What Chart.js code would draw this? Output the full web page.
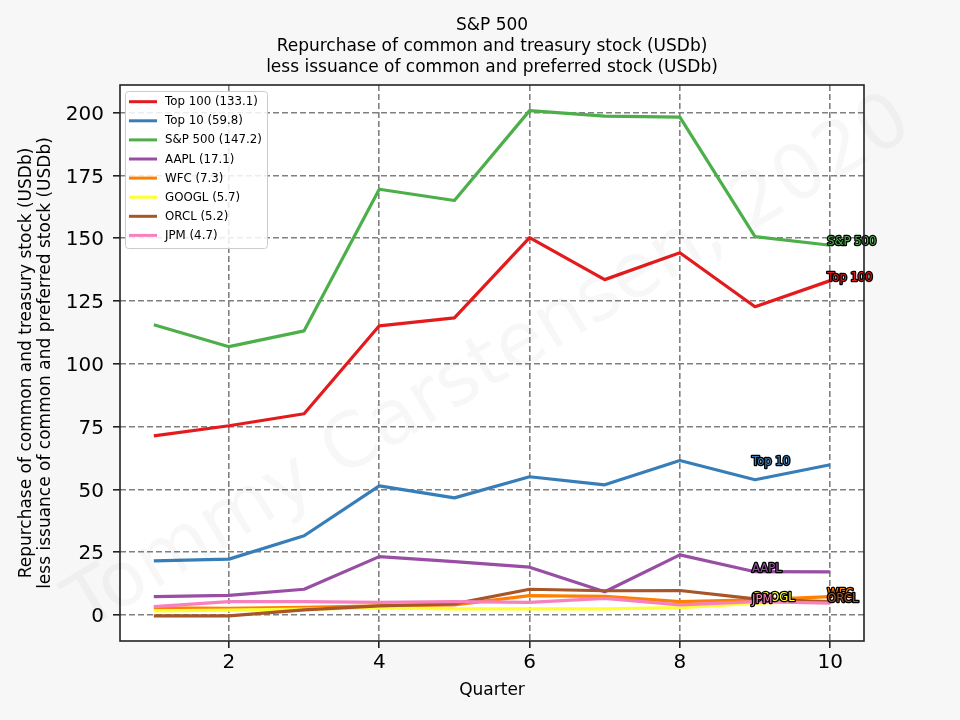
<!DOCTYPE html>
<html>
<head>
<meta charset="utf-8">
<script src="https://cdn.jsdelivr.net/npm/chart.js@4"></script>
<style>
html,body{margin:0;padding:0;background:#f7f7f7;}
canvas{display:block;}
</style>
</head>
<body>
<canvas id="c" width="960" height="720"></canvas>
<script>
// ---- data ----
const quarters = [1, 2, 3, 4, 5, 6, 7, 8, 9, 10];
const seriesNames = ["Top 100", "Top 10", "S&P 500", "AAPL", "WFC", "GOOGL", "ORCL", "JPM"];
const top100 = [71.3, 75.3, 80.1, 115.1, 118.3, 150.2, 133.5, 144.2, 122.7, 133.1];
const top10  = [21.5, 22.2, 31.5, 51.4, 46.6, 55.0, 51.8, 61.5, 53.8, 59.8];
const sp500  = [115.5, 106.8, 113.1, 169.5, 165.0, 200.8, 198.6, 198.2, 150.6, 147.2];
const aapl   = [7.3, 7.8, 10.2, 23.2, 21.2, 19.0, 9.2, 23.9, 17.2, 17.1];
const wfc    = [2.8, 2.6, 3.0, 3.6, 4.0, 7.7, 7.4, 5.3, 6.0, 7.3];
const googl  = [1.6, 1.9, 2.3, 2.8, 2.4, 2.4, 2.4, 2.9, 4.6, 5.7];
const orcl   = [-0.4, -0.4, 2.0, 3.6, 4.4, 10.2, 9.6, 9.7, 6.4, 5.2];
const jpm    = [3.3, 5.3, 5.3, 5.0, 5.3, 5.0, 6.6, 4.0, 5.3, 4.7];
const seriesValues = [top100, top10, sp500, aapl, wfc, googl, orcl, jpm];
const labelQuarter = [10, 9, 10, 9, 10, 9, 10, 9];
const xTicks = [2, 4, 6, 8, 10];
const yTicks = [0, 25, 50, 75, 100, 125, 150, 175, 200];
const titleLines = ["S&P 500", "Repurchase of common and treasury stock (USDb)", "less issuance of common and preferred stock (USDb)"];
const xTitle = "Quarter";
const yTitleLines = ["Repurchase of common and treasury stock (USDb)", "less issuance of common and preferred stock (USDb)"];
const watermark = "Tommy Carstensen, 2020";

// ---- styles ----
const colors = ["#e41a1c", "#377eb8", "#4daf4a", "#984ea3", "#ff7f00", "#ffff33", "#a65628", "#f781bf"];
const FONT = "'DejaVu Sans', sans-serif";

const datasets = seriesNames.map((name, i) => ({
  label: name + " (" + seriesValues[i][seriesValues[i].length - 1].toFixed(1) + ")",
  data: quarters.map((q, j) => ({x: q, y: seriesValues[i][j]})),
  borderColor: colors[i],
  backgroundColor: colors[i],
  borderWidth: 3.2,
  pointRadius: 0,
  tension: 0,
  fill: false,
  borderJoinStyle: 'round',
  order: seriesNames.length - i
}));

const deco = {
  id: 'deco',
  beforeDraw(chart) {
    const {ctx, chartArea: a} = chart;
    ctx.save();
    ctx.fillStyle = '#f7f7f7';
    ctx.fillRect(0, 0, chart.width, chart.height);
    ctx.fillStyle = '#ffffff';
    ctx.fillRect(a.left, a.top, a.right - a.left, a.bottom - a.top);
    ctx.restore();
  },
  afterDatasetsDraw(chart) {
    const {ctx, chartArea: a, scales} = chart;
    // line end labels
    ctx.save();
    ctx.font = "11.6px " + FONT;
    ctx.textAlign = 'left';
    ctx.textBaseline = 'alphabetic';
    ctx.lineJoin = 'round';
    seriesNames.forEach((name, i) => {
      const vals = seriesValues[i];
      const px = scales.x.getPixelForValue(labelQuarter[i]) - 3;
      const py = scales.y.getPixelForValue(vals[vals.length - 1]);
      ctx.lineWidth = 2.6;
      ctx.strokeStyle = '#000';
      ctx.strokeText(name, px, py);
      ctx.fillStyle = colors[i];
      ctx.fillText(name, px, py);
    });
    ctx.restore();

    // frame
    ctx.save();
    ctx.strokeStyle = '#222';
    ctx.lineWidth = 1.6;
    ctx.strokeRect(a.left, a.top, a.right - a.left, a.bottom - a.top);
    ctx.restore();

    // legend
    ctx.save();
    const lx = 125, ly = 91, lw = 142, lh = 157;
    ctx.fillStyle = 'rgba(255,255,255,0.85)';
    ctx.strokeStyle = '#cccccc';
    ctx.lineWidth = 1;
    ctx.beginPath();
    if (ctx.roundRect) ctx.roundRect(lx + 0.5, ly + 0.5, lw, lh, 3); else ctx.rect(lx + 0.5, ly + 0.5, lw, lh);
    ctx.fill();
    ctx.stroke();
    ctx.font = "11.8px " + FONT;
    ctx.textBaseline = 'middle';
    ctx.textAlign = 'left';
    chart.data.datasets.forEach((ds, i) => {
      const cy = 101.7 + i * 19.1;
      ctx.strokeStyle = ds.borderColor;
      ctx.lineWidth = 3;
      ctx.beginPath();
      ctx.moveTo(129, cy);
      ctx.lineTo(157, cy);
      ctx.stroke();
      ctx.fillStyle = '#000';
      ctx.fillText(ds.label, 165, cy + 0.5);
    });
    ctx.restore();
  },
  afterDraw(chart) {
    const {ctx, chartArea: a} = chart;
    const cx = (a.left + a.right) / 2;
    ctx.save();
    ctx.fillStyle = '#000';
    ctx.font = "17px " + FONT;
    ctx.textAlign = 'center';
    ctx.textBaseline = 'middle';
    // title
    titleLines.forEach((t, i) => ctx.fillText(t, cx, 26 + i * 21));
    // axis titles
    ctx.fillText(xTitle, cx, 691);
    const cy = (a.top + a.bottom) / 2;
    [27, 46].forEach((x, i) => {
      ctx.save();
      ctx.translate(x, cy);
      ctx.rotate(-Math.PI / 2);
      ctx.fillText(yTitleLines[i], 0, 0);
      ctx.restore();
    });
    ctx.restore();
    // watermark
    ctx.save();
    ctx.translate(490, 365);
    ctx.rotate(-31 * Math.PI / 180);
    ctx.font = "76px " + FONT;
    ctx.fillStyle = 'rgba(0,0,0,0.032)';
    ctx.textAlign = 'center';
    ctx.textBaseline = 'middle';
    ctx.fillText(watermark, 0, 0);
    ctx.restore();
  }
};

new Chart(document.getElementById('c'), {
  type: 'line',
  data: {datasets},
  options: {
    responsive: false,
    animation: false,
    devicePixelRatio: 1,
    layout: {padding: {left: 0, right: 96, top: 85, bottom: 0}},
    plugins: {
      legend: {display: false},
      tooltip: {enabled: false},
      title: {display: false}
    },
    scales: {
      x: {
        type: 'linear',
        min: 0.55,
        max: 10.45,
        afterFit(scale) { scale.height = 79; },
        afterBuildTicks(scale) { scale.ticks = xTicks.map(v => ({value: v})); },
        ticks: {color: '#000', font: {family: FONT, size: 20}, padding: 3, maxRotation: 0, autoSkip: false},
        grid: {color: '#808080', lineWidth: 1.6, tickLength: 7, tickColor: '#222', tickWidth: 1.6, drawOnChartArea: true},
        border: {display: false, dash: [6, 3]}
      },
      y: {
        type: 'linear',
        min: -10.4,
        max: 211,
        afterFit(scale) { scale.width = 120; },
        afterBuildTicks(scale) { scale.ticks = yTicks.map(v => ({value: v})); },
        ticks: {color: '#000', font: {family: FONT, size: 20}, padding: 9, labelOffset: 2, autoSkip: false},
        grid: {color: '#808080', lineWidth: 1.6, tickLength: 7, tickColor: '#222', tickWidth: 1.6, drawOnChartArea: true},
        border: {display: false, dash: [6, 3]}
      }
    }
  },
  plugins: [deco]
});
</script>
</body>
</html>
